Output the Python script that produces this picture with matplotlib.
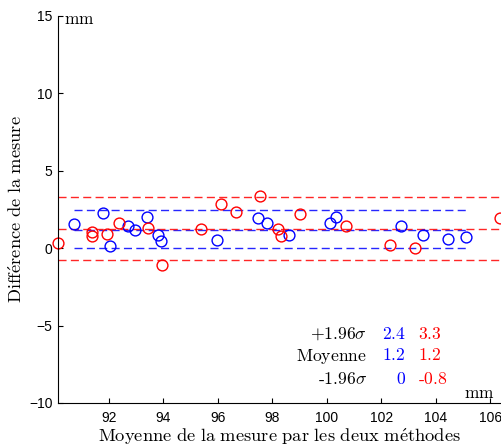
import matplotlib
matplotlib.use("Agg")
import matplotlib.pyplot as plt
import numpy as np

plt.rcParams['mathtext.fontset'] = 'cm'
plt.rcParams['font.family'] = ['Liberation Sans', 'DejaVu Sans']

# Series 1 (blue)
x_blue = [90.73, 91.79, 92.04, 92.69, 92.95, 93.39, 93.79, 93.91, 95.96,
          97.46, 97.80, 98.62, 100.13, 100.32, 102.73, 103.52, 104.44, 105.09]
y_blue = [1.57, 2.25, 0.12, 1.44, 1.15, 2.04, 0.85, 0.44, 0.53,
          1.93, 1.65, 0.83, 1.65, 2.04, 1.46, 0.83, 0.61, 0.72]
# Series 2 (red)
x_red = [90.14, 91.38, 91.38, 91.94, 92.38, 93.44, 93.96, 95.39, 96.10,
         96.66, 97.54, 98.20, 98.31, 99.01, 100.72, 102.32, 103.22, 106.36]
y_red = [0.34, 1.02, 0.81, 0.94, 1.65, 1.33, -1.07, 1.24, 2.86,
         2.34, 3.35, 1.26, 0.81, 2.23, 1.44, 0.23, 0.03, 1.95]

# Limits of agreement (upper, mean, lower)
lim_blue = [2.44, 1.20, 0.0]
lim_red = [3.30, 1.27, -0.78]
lim_blue_txt = ['2.4', '1.2', '0']
lim_red_txt = ['3.3', '1.2', '-0.8']
lim_names = [r'$+1.96\sigma$', r'$\mathrm{Moyenne}$', r'$\text{-}1.96\sigma$']

xticks = [92, 94, 96, 98, 100, 102, 104, 106]
yticks = [-10, -5, 0, 5, 10, 15]

fig = plt.figure(figsize=(5.02, 4.48), dpi=100)
ax = fig.add_axes([58/502, 45/448, (500-58)/502, (403-16)/448])
ax.set_xlim(90.14, 106.35)
ax.set_ylim(-10, 15)

blue = '#0000ff'
red = '#ff0000'

for v in lim_blue:
    ax.plot([min(x_blue), max(x_blue)], [v, v], color=blue, lw=1,
            dashes=(5.8, 3.1), alpha=0.85)
for v in lim_red:
    ax.plot([min(x_red), max(x_red)], [v, v], color=red, lw=1,
            dashes=(5.8, 3.1), alpha=0.85, clip_on=False)

ax.plot(x_blue, y_blue, 'o', mfc='none', mec=blue, ms=7.8, mew=1.0, clip_on=False)
ax.plot(x_red, y_red, 'o', mfc='none', mec=red, ms=7.8, mew=1.0, clip_on=False)

for s in ['top', 'right']:
    ax.spines[s].set_visible(False)
ax.set_xticks(xticks)
ax.set_yticks(yticks)
ax.set_yticklabels([('\u2212' + str(-t)) if t < 0 else str(t) for t in yticks])
ax.tick_params(direction='in', length=3.5, width=0.8, labelsize=10)
ax.tick_params(axis='x', pad=6)
ax.tick_params(axis='y', pad=4)

ax.set_xlabel(r'$\mathrm{Moyenne\ de\ la\ mesure\ par\ les\ deux\ m\acute{e}thodes}$',
              fontsize=13.3, labelpad=1)
ax.set_ylabel(r'$\mathrm{Diff\acute{e}rence\ de\ la\ mesure}$', fontsize=13.3, labelpad=2)

fig.text(64/502, 1 - 19/448, r'$\mathrm{mm}$', fontsize=12.5, ha='left', va='center')
fig.text(495/502, 1 - 393/448, r'$\mathrm{mm}$', fontsize=12.5, ha='right', va='center')

rows_y = [334, 356, 379]
for yy, name, bt, rt in zip(rows_y, lim_names, lim_blue_txt, lim_red_txt):
    fig.text(367/502, 1 - yy/448, name, fontsize=12.7, ha='right', va='center')
    fig.text(406/502, 1 - yy/448, r'$\mathrm{' + bt + '}$', fontsize=12.7, ha='right',
             va='center', color=blue)
    fig.text(418/502, 1 - yy/448, r'$\mathrm{' + rt.replace('-', r'\text{-}') + '}$',
             fontsize=12.7, ha='left', va='center', color=red)

fig.savefig('out.png', dpi=100)
